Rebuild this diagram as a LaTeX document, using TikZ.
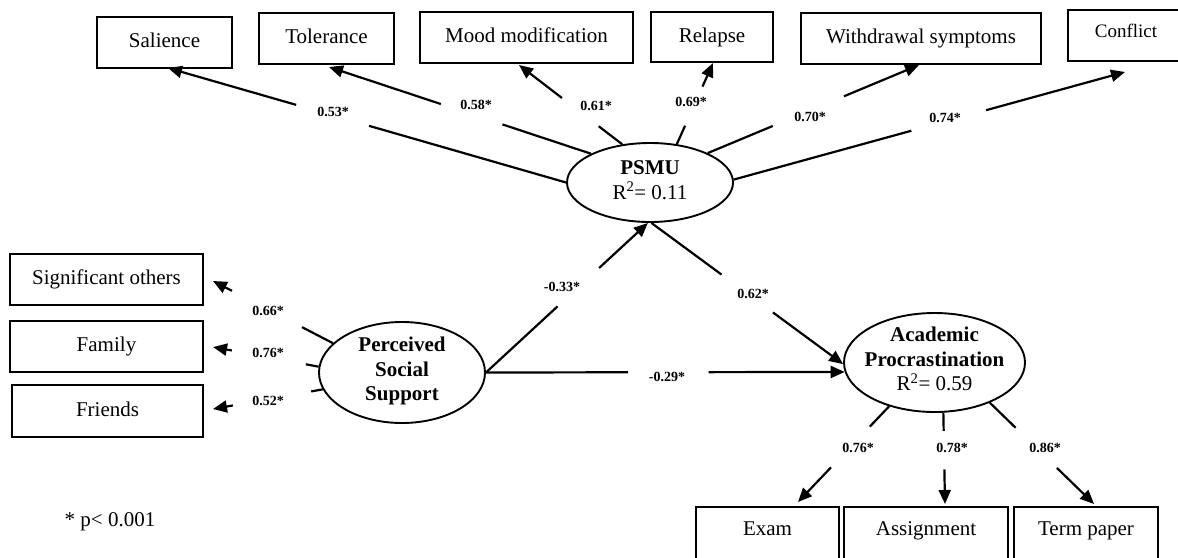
\documentclass[tikz,border=0pt]{standalone}
\usepackage{fontspec}
\setmainfont{Liberation Serif}
\usetikzlibrary{arrows.meta,shapes.geometric,calc}
\newcommand\gapline[4]{\draw[conn] (#1) -- ($(#1)!#3!(#2)$) ($(#1)!#4!(#2)$) -- (#2);}
\begin{document}
\begin{tikzpicture}[x=1pt,y=-1pt,
  box/.style={draw,line width=1.3pt,rectangle,inner sep=0pt,minimum height=51pt,
    font=\fontsize{21}{24}\selectfont,text height=14.5pt,text depth=4.5pt},
  lat/.style={draw,line width=1.9pt,ellipse,inner sep=0pt},
  ltext/.style={align=center,font=\fontsize{21}{24.5}\selectfont,inner sep=0pt},
  conn/.style={line width=2.2pt,-{Triangle[length=14pt,width=12pt]}},
  lab/.style={font=\fontsize{14}{16}\selectfont\bfseries,inner sep=0pt}]
\useasboundingbox (0,0) rectangle (1178,557);

% indicator boxes, top
\node[box,minimum width=135pt] (sal) at (164.5,42.5) {Salience};
\node[box,minimum width=135pt] (tol) at (326.5,38.5) {Tolerance};
\node[box,minimum width=213pt] (mood) at (526.5,37.5) {Mood modification};
\node[box,minimum width=122pt,minimum height=50pt] (rel) at (712,37) {Relapse};
\node[box,minimum width=240pt] (wd) at (921,38.5) {Withdrawal symptoms};
\node[box,minimum width=116pt,font=\fontsize{19}{22}\selectfont,text depth=11.5pt] (con) at (1126,35.5) {Conflict};

% indicator boxes, left
\node[box,minimum width=193pt] (sig) at (106.5,279.5) {Significant others};
\node[box,minimum width=193pt] (fam) at (106.5,346.5) {Family};
\node[box,minimum width=191pt,minimum height=52pt] (fri) at (107.5,411) {Friends};

% indicator boxes, bottom
\node[box,minimum width=143pt,minimum height=68pt,text depth=26.5pt] (exam) at (767.5,541) {Exam};
\node[box,minimum width=164pt,minimum height=68pt,text depth=26.5pt] (asg) at (926,541) {Assignment};
\node[box,minimum width=144pt,minimum height=68pt,text depth=26.5pt] (term) at (1086,541) {Term paper};

% latent variables
\node[lat,minimum width=166pt,minimum height=79pt] (psmu) at (650,182.5) {};
\node[ltext] (psmut) at (650,180) {\textbf{PSMU}\\R\textsuperscript{2}= 0.11};
\node[lat,minimum width=166pt,minimum height=101pt] (pss) at (402,372.5) {};
\node[ltext] (psst) at (402,371) {\textbf{Perceived}\\\textbf{Social}\\\textbf{Support}};
\node[lat,minimum width=181pt,minimum height=99pt] (ap) at (934.5,362.5) {};
\node[ltext] (apt) at (934.5,359) {\textbf{Academic}\\\textbf{Procrastination}\\R\textsuperscript{2}= 0.59};

% arrow tips
\coordinate (tsal) at (168,68);
\coordinate (ttol) at (329,67);
\coordinate (tmood) at (519,65);
\coordinate (trel) at (713,63);
\coordinate (twd) at (919,65);
\coordinate (tcon) at (1125,72);
\coordinate (tsig) at (213,281);
\coordinate (tfam) at (213,347);
\coordinate (tfri) at (213,409);
\coordinate (texam) at (798,502);
\coordinate (tasg) at (945,504);
\coordinate (tterm) at (1094,504);

% connectors
\gapline{psmu.180}{tsal}{0.495}{0.678}
\gapline{psmu.154}{ttol}{0.338}{0.573}
\gapline{psmu.126}{tmood}{0.228}{0.584}
\gapline{psmu.55}{trel}{0.228}{0.709}
\gapline{psmu.27}{twd}{0.308}{0.645}
\gapline{psmu.2}{tcon}{0.454}{0.645}
\gapline{pss.0}{psmu.267}{0.442}{0.699}
\gapline{psmu.272}{ap.181}{0.366}{0.634}
\gapline{pss.0}{ap.186}{0.396}{0.621}
\gapline{ap.224}{texam}{0.213}{0.638}
\gapline{ap.280}{tasg}{0.2}{0.621}
\gapline{ap.324}{tterm}{0.248}{0.644}
\gapline{pss.157}{tsig}{0.258}{0.842}
\gapline{pss.176}{tfam}{0.121}{0.822}
\gapline{pss.192}{tfri}{0.105}{0.819}

% labels
\node[lab] (l1) at (333,112) {0.53*};
\node[lab] (l2) at (476,105) {0.58*};
\node[lab] (l3) at (596,106) {0.61*};
\node[lab] (l4) at (691,102) {0.69*};
\node[lab] (l5) at (810,117) {0.70*};
\node[lab] (l6) at (945,118) {0.74*};
\node[lab] (l7) at (562,287) {-0.33*};
\node[lab] (l8) at (753,294) {0.62*};
\node[lab] (l9) at (667,377) {-0.29*};
\node[lab] (l10) at (858,448) {0.76*};
\node[lab] (l11) at (952,448) {0.78*};
\node[lab] (l12) at (1045,448) {0.86*};
\node[lab] (l13) at (268,311) {0.66*};
\node[lab] (l14) at (268,353) {0.76*};
\node[lab] (l15) at (268,401) {0.52*};
\node[font=\fontsize{21}{24}\selectfont,inner sep=0pt] (note) at (110,522) {* p< 0.001};
\end{tikzpicture}
\end{document}
